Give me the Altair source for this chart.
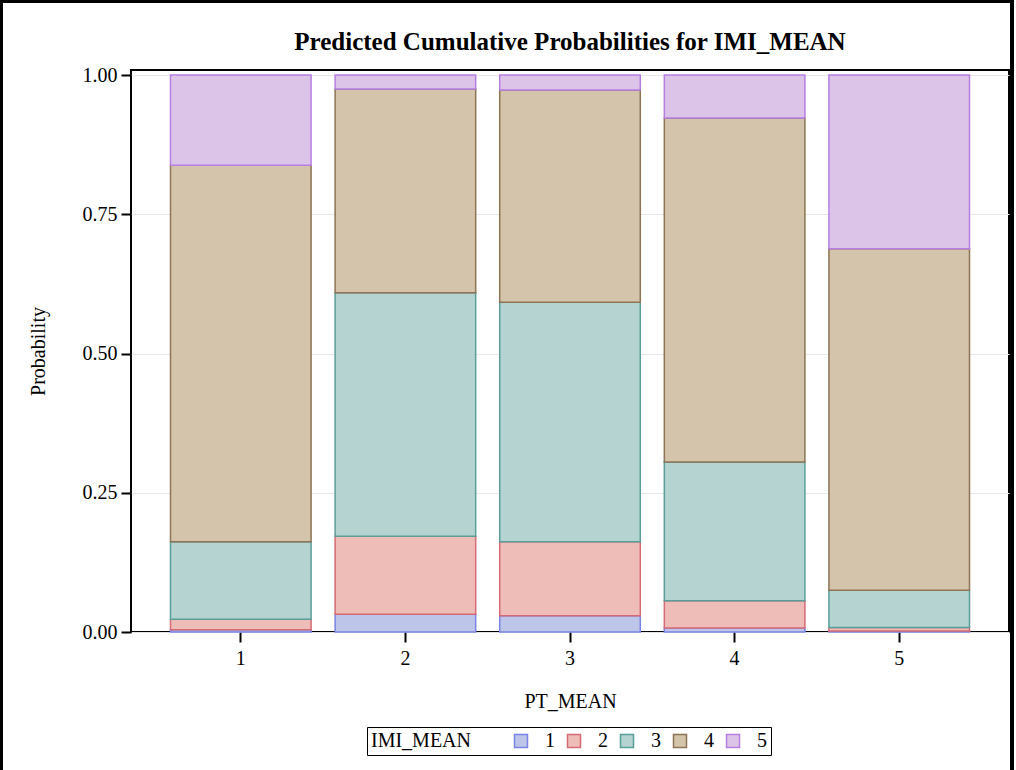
import altair as alt
import pandas as pd

# Predicted cumulative probabilities of IMI_MEAN levels at each PT_MEAN value
pt_mean = ["1", "2", "3", "4", "5"]
imi_levels = ["1", "2", "3", "4", "5"]
cum_le1 = [0.004, 0.032, 0.029, 0.007, 0.002]
cum_le2 = [0.023, 0.172, 0.162, 0.056, 0.008]
cum_le3 = [0.162, 0.609, 0.592, 0.305, 0.075]
cum_le4 = [0.838, 0.975, 0.973, 0.923, 0.688]
cum_le5 = [1.0, 1.0, 1.0, 1.0, 1.0]

fill_colors = ["#BDC5E8", "#EFBDB8", "#B5D3D1", "#D4C4AC", "#DBC4E8"]
stroke_colors = ["#7A84E6", "#D66A74", "#5A9E99", "#8C7454", "#B77EE2"]

title_text = "Predicted Cumulative Probabilities for IMI_MEAN"

cums = [cum_le1, cum_le2, cum_le3, cum_le4, cum_le5]
rows = []
for i, x in enumerate(pt_mean):
    prev = 0.0
    for lvl, cum in zip(imi_levels, cums):
        rows.append({"PT_MEAN": x, "IMI_MEAN": lvl, "upper": cum[i], "lower": prev})
        prev = cum[i]
df = pd.DataFrame(rows)

FONT = "Liberation Serif"

bars = alt.Chart(df).mark_bar(strokeWidth=1.5, strokeOpacity=1).encode(
    x=alt.X("PT_MEAN:N", title="PT_MEAN",
            scale=alt.Scale(paddingInner=0.146, paddingOuter=0.24),
            axis=alt.Axis(labelAngle=0, labelFontSize=20, titleFontSize=20,
                          titleFontWeight="normal", tickSize=10, tickWidth=2,
                          tickColor="black", domain=False, grid=False,
                          labelPadding=6, titlePadding=23, labelColor="black",
                          titleColor="black")),
    y=alt.Y("upper:Q", title="Probability",
            scale=alt.Scale(domain=[0, 1.009], nice=False, zero=True),
            axis=alt.Axis(values=[0, 0.25, 0.5, 0.75, 1.0], format=".2f",
                          labelFontSize=20, titleFontSize=20,
                          titleFontWeight="normal", tickSize=10, tickWidth=2,
                          tickColor="black", domain=False, grid=True,
                          gridColor="#E6E6E6", gridWidth=1.2,
                          labelPadding=4, titlePadding=34, labelColor="black",
                          titleColor="black")),
    y2="lower:Q",
    fill=alt.Fill("IMI_MEAN:N", title="IMI_MEAN",
                  scale=alt.Scale(domain=imi_levels, range=fill_colors),
                  legend=alt.Legend(orient="none", legendX=236, legendY=657,
                                    direction="horizontal", titleOrient="left",
                                    strokeColor="black", padding=4,
                                    symbolType="square", symbolSize=169,
                                    symbolStrokeWidth=1.5,
                                    labelFontSize=20, titleFontSize=20,
                                    titleFontWeight="normal",
                                    titlePadding=40, columnPadding=9,
                                    labelOffset=14, labelColor="black",
                                    titleColor="black")),
    stroke=alt.Stroke("IMI_MEAN:N", title="IMI_MEAN",
                      scale=alt.Scale(domain=imi_levels, range=stroke_colors)),
    order=alt.Order("IMI_MEAN:N"),
)

# chart title, centred over the plot area
title = alt.Chart(pd.DataFrame({"t": [title_text]})).mark_text(
    font=FONT, fontSize=25, fontWeight="bold", color="black",
    align="center", baseline="alphabetic", clip=False,
).encode(x=alt.value(439), y=alt.value(-20), text="t:N")

# border around the whole figure
frame = alt.Chart(df).mark_rect(fill=None, stroke="black", strokeWidth=2.5,
                                clip=False).encode(
    x=alt.value(-130), x2=alt.value(881), y=alt.value(-69), y2=alt.value(720)
)

chart = alt.layer(bars, title, frame).properties(
    width=878, height=562,
    autosize=alt.AutoSizeParams(type="none"),
    padding={"left": 131, "top": 70, "right": 7, "bottom": 138},
).configure(
    font=FONT,
).configure_view(
    stroke="black", strokeWidth=2,
).configure_axis(
    labelFont=FONT, titleFont=FONT,
).configure_legend(
    labelFont=FONT, titleFont=FONT,
)

chart.save("out.html", embed_options={"renderer": "svg", "actions": False})
